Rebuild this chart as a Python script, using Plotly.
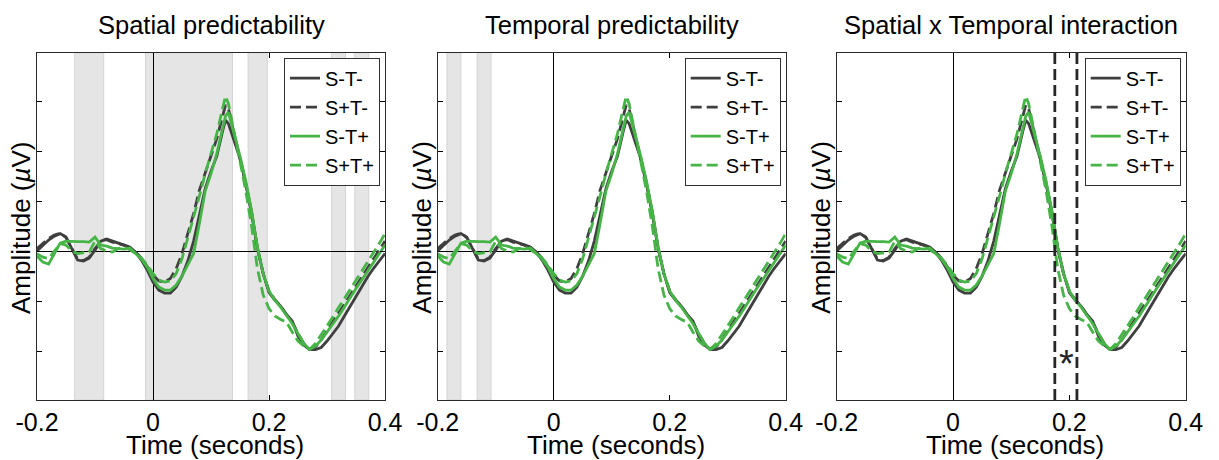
import plotly.graph_objects as go

W, H = 1219, 460

# ---------------- data ----------------
T = [-0.20, -0.19, -0.18, -0.17, -0.16, -0.15, -0.14, -0.13, -0.12, -0.11,
     -0.10, -0.09, -0.08, -0.07, -0.06, -0.05, -0.04, -0.03, -0.02, -0.01,
     0.00, 0.01, 0.02, 0.03, 0.04, 0.05, 0.06, 0.07, 0.08, 0.09, 0.10, 0.11, 0.12,
     0.125,
     0.13, 0.14, 0.15, 0.16, 0.17, 0.18, 0.19, 0.20, 0.21, 0.22,
     0.23, 0.24, 0.25, 0.26, 0.27, 0.28, 0.29, 0.30, 0.31, 0.32,
     0.33, 0.34, 0.35, 0.36, 0.37, 0.38, 0.39, 0.40]

S_MINUS_T_MINUS = [0.00, 0.12, 0.22, 0.30, 0.35, 0.28, 0.05, -0.18, -0.20, -0.14,
                   0.02, 0.20, 0.24, 0.20, 0.16, 0.12, 0.08, -0.02, -0.18, -0.38,
                   -0.62, -0.78, -0.84, -0.84, -0.72, -0.50, -0.20, 0.20, 0.75, 1.25, 1.60, 1.90, 2.40,
                   2.62,
                   2.55, 2.20, 1.85, 1.35, 0.78, 0.07, -0.45, -0.83, -0.98, -1.10,
                   -1.27, -1.40, -1.70, -1.88, -1.97, -1.97, -1.93, -1.80, -1.65, -1.50,
                   -1.30, -1.10, -0.92, -0.72, -0.52, -0.35, -0.20, -0.05]

S_PLUS_T_MINUS = [0.05, 0.15, 0.25, 0.32, 0.36, 0.27, 0.04, -0.16, -0.19, -0.12,
                  0.05, 0.20, 0.23, 0.18, 0.15, 0.12, 0.06, -0.02, -0.14, -0.30,
                  -0.48, -0.60, -0.62, -0.55, -0.35, -0.05, 0.35, 0.75, 1.22, 1.55, 1.90, 2.25, 2.70,
                  2.92,
                  2.85, 2.35, 1.85, 1.35, 0.75, 0.05, -0.45, -0.80, -0.97, -1.10,
                  -1.27, -1.42, -1.65, -1.85, -1.96, -1.92, -1.78, -1.60, -1.43, -1.25,
                  -1.07, -0.88, -0.70, -0.52, -0.35, -0.18, 0.00, 0.20]

S_MINUS_T_PLUS = [-0.10, -0.22, -0.26, -0.05, 0.16, 0.20, 0.19, 0.19, 0.19, 0.18,
                  0.28, 0.12, 0.10, 0.06, 0.05, 0.04, 0.06, -0.06, -0.16, -0.32,
                  -0.55, -0.72, -0.78, -0.78, -0.68, -0.50, -0.28, -0.05, 0.55, 1.20, 1.55, 1.95, 2.45,
                  2.70,
                  2.78, 2.35, 1.90, 1.40, 0.80, 0.08, -0.45, -0.80, -0.98, -1.12,
                  -1.28, -1.45, -1.65, -1.85, -1.97, -1.90, -1.78, -1.62, -1.47, -1.30,
                  -1.12, -0.93, -0.75, -0.58, -0.40, -0.22, -0.05, 0.12]

S_PLUS_T_PLUS = [-0.05, -0.12, -0.15, 0.00, 0.15, 0.12, 0.00, -0.05, -0.04, -0.02,
                 0.20, 0.05, 0.00, -0.02, 0.05, 0.08, 0.03, -0.05, -0.14, -0.28,
                 -0.45, -0.58, -0.62, -0.60, -0.45, -0.15, 0.25, 0.65, 1.10, 1.55, 1.95, 2.35, 2.85,
                 3.10,
                 2.95, 2.40, 1.80, 1.20, 0.50, -0.35, -0.88, -1.15, -1.30, -1.37,
                 -1.42, -1.62, -1.80, -1.90, -1.97, -1.85, -1.68, -1.50, -1.32, -1.13,
                 -0.95, -0.77, -0.58, -0.40, -0.22, -0.04, 0.15, 0.35]

SERIES_NAMES = ["S-T-", "S+T-", "S-T+", "S+T+"]
SERIES_VALUES = [S_MINUS_T_MINUS, S_PLUS_T_MINUS, S_MINUS_T_PLUS, S_PLUS_T_PLUS]

PANEL_TITLES = ["Spatial predictability", "Temporal predictability",
                "Spatial x Temporal interaction"]
X_TICKS = [-0.2, 0, 0.2, 0.4]
X_TICK_LABELS = ["-0.2", "0", "0.2", "0.4"]

SPATIAL_SIG_START = [-0.135, -0.013, 0.164, 0.308, 0.348]
SPATIAL_SIG_END = [-0.085, 0.137, 0.197, 0.332, 0.372]
TEMPORAL_SIG_START = [-0.184, -0.132]
TEMPORAL_SIG_END = [-0.160, -0.108]
INTERACTION_WINDOW = [0.175, 0.213]
STAR_X, STAR_Y = 0.195, -2.08

# ---------------- styling ----------------
FONT = "Liberation Sans, Arial, Helvetica, sans-serif"
DARK = "#3f3f3f"
GREEN = "#46b446"
DASH = "11px,5px"
STYLES = [(DARK, "solid"), (DARK, DASH), (GREEN, "solid"), (GREEN, DASH)]

PANEL_PX = [(37.0, 385.0), (437.7, 785.7), (836.7, 1185.7)]
TOP_PX, BOTTOM_PX = 52.7, 400.0
Y_RANGE = [-2.98, 3.97]


def px(x):
    return x / W


def py(y):
    return 1 - y / H


fig = go.Figure()
layout = dict(
    template="none",
    width=W, height=H,
    margin=dict(l=0, r=0, t=0, b=0, pad=0, autoexpand=False),
    paper_bgcolor="white", plot_bgcolor="white",
    font=dict(family=FONT, color="black"),
    shapes=[], annotations=[],
)

for i, (lpx, rpx) in enumerate(PANEL_PX):
    sfx = "" if i == 0 else str(i + 1)
    xa, ya = "x" + sfx, "y" + sfx
    leg = "legend" + sfx
    layout["xaxis" + sfx] = dict(
        domain=[px(lpx), px(rpx)], range=[-0.2, 0.4], anchor=ya, automargin=False,
        tickvals=X_TICKS, ticktext=X_TICK_LABELS,
        ticks="inside", ticklen=5, tickcolor="black", tickwidth=1,
        showline=True, linecolor="#2a2a2a", linewidth=1, mirror="ticks",
        showgrid=False, zeroline=True, zerolinecolor="black", zerolinewidth=1,
        tickfont=dict(size=25, color="black", family=FONT),
    )
    layout["yaxis" + sfx] = dict(
        domain=[py(BOTTOM_PX), py(TOP_PX)], range=Y_RANGE, anchor=xa, automargin=False,
        tick0=0, dtick=1, showticklabels=False,
        ticks="inside", ticklen=5, tickcolor="black", tickwidth=1,
        showline=True, linecolor="#2a2a2a", linewidth=1, mirror="ticks",
        showgrid=False, zeroline=True, zerolinecolor="black", zerolinewidth=1,
    )
    for name, vals, (col, dash) in zip(SERIES_NAMES, SERIES_VALUES, STYLES):
        fig.add_trace(go.Scatter(
            x=T, y=vals, mode="lines", name=name,
            line=dict(color=col, dash=dash, width=2.8),
            xaxis=xa, yaxis=ya, legend=leg, showlegend=True,
        ))
    layout[leg] = dict(
        x=px(rpx - 5), xanchor="right", y=py(TOP_PX + 5), yanchor="top",
        bordercolor="#333333", borderwidth=1, bgcolor="white",
        font=dict(size=20, family=FONT, color="black"),
        tracegroupgap=0, itemwidth=30,
    )
    cx = (lpx + rpx) / 2
    layout["annotations"].append(dict(
        text=PANEL_TITLES[i], x=px(cx), y=py(25), xref="paper", yref="paper",
        xanchor="center", yanchor="middle", showarrow=False,
        font=dict(size=25.5, family=FONT, color="black")))
    layout["annotations"].append(dict(
        text="Time (seconds)", x=px(cx + 4), y=py(445), xref="paper", yref="paper",
        xanchor="center", yanchor="middle", showarrow=False,
        font=dict(size=26, family=FONT, color="black")))
    layout["annotations"].append(dict(
        text="Amplitude (<i>µ</i>V)", x=px(lpx - 16), y=py(228), xref="paper", yref="paper",
        xanchor="center", yanchor="middle", textangle=-90, showarrow=False,
        font=dict(size=26, family=FONT, color="black")))

# significance bands
for sfx, starts, ends in [("", SPATIAL_SIG_START, SPATIAL_SIG_END),
                          ("2", TEMPORAL_SIG_START, TEMPORAL_SIG_END)]:
    for a, b in zip(starts, ends):
        layout["shapes"].append(dict(
            type="rect", xref="x" + sfx, yref="y" + sfx + " domain",
            x0=a, x1=b, y0=0, y1=1, fillcolor="#e5e5e5",
            line=dict(color="#d4d4d4", width=1), layer="below"))

# interaction window
for xv in INTERACTION_WINDOW:
    layout["shapes"].append(dict(
        type="line", xref="x3", yref="y3 domain", x0=xv, x1=xv, y0=0, y1=1,
        line=dict(color="#262626", width=2.8, dash=DASH), layer="above"))

layout["annotations"].append(dict(
    text="*", x=STAR_X, y=STAR_Y, xref="x3", yref="y3", xanchor="center",
    yanchor="middle", yshift=-9, showarrow=False,
    font=dict(size=38, family=FONT, color="#222222")))

fig.update_layout(**layout)
fig.write_html("out.html",
               config={"displayModeBar": False},
               post_script="document.body.style.margin='0px';"
                           "document.body.style.overflow='hidden';")
